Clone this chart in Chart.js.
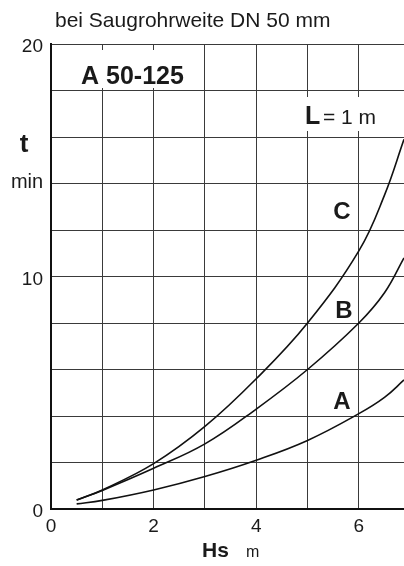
<!DOCTYPE html>
<html>
<head>
<meta charset="utf-8">
<script src="https://cdn.jsdelivr.net/npm/chart.js@4"></script>
<style>
  html, body { margin: 0; padding: 0; background: #fff; }
  #wrap { width: 404px; height: 566px; position: relative; }
</style>
</head>
<body>
<div id="wrap"><canvas id="chart"></canvas></div>
<script>
// Saugzeit t (min) ueber Saughoehe Hs (m), A 50-125
const hs = [0.5, 1, 2, 3, 4, 5, 6, 6.5, 6.88];
const tA = [0.22, 0.37, 0.82, 1.4, 2.1, 2.95, 4.1, 4.8, 5.55];
const tB = [0.39, 0.8, 1.75, 2.8, 4.3, 6.0, 8.0, 9.3, 10.8];
const tC = [0.39, 0.82, 1.95, 3.55, 5.6, 8.0, 11.1, 13.5, 15.9];
const xLabels = [0, 2, 4, 6];
const yLabels = [0, 10, 20];

const FONT = "'Liberation Sans', Arial, sans-serif";

function toPoints(ys) {
    return hs.map(function(x, i) { return { x: x, y: ys[i] }; });
}

function curve(label, ys) {
    return {
        label: label,
        data: toPoints(ys),
        borderColor: '#111',
        borderWidth: 1.6,
        pointRadius: 0,
        fill: false,
        tension: 0.4
    };
}

// white boxes behind the type labels, then all the free text
const textPlugin = {
    id: 'texts',
    beforeDatasetsDraw(chart) {
        const ctx = chart.ctx;
        ctx.save();
        ctx.fillStyle = '#fff';
        ctx.fillRect(52, 50, 151, 38);
        ctx.fillRect(298, 97, 106, 34);
        ctx.restore();
    },
    afterDraw(chart) {
        const ctx = chart.ctx;
        ctx.save();
        ctx.fillStyle = '#1a1a1a';
        ctx.textBaseline = 'alphabetic';

        ctx.font = '21px ' + FONT;
        ctx.textAlign = 'left';
        ctx.fillText('bei Saugrohrweite DN 50 mm', 55, 27);

        ctx.font = 'bold 25px ' + FONT;
        ctx.fillText('A 50-125', 81, 84);

        ctx.font = 'bold 25px ' + FONT;
        ctx.fillText('L', 305, 124);
        ctx.font = '21px ' + FONT;
        ctx.fillText('= 1 m', 323, 124);

        ctx.font = 'bold 24px ' + FONT;
        ctx.textAlign = 'center';
        ctx.fillText('C', 342, 219);
        ctx.fillText('B', 344, 318);
        ctx.fillText('A', 342, 409);

        ctx.font = 'bold 26px ' + FONT;
        ctx.fillText('t', 24, 152);
        ctx.font = '20px ' + FONT;
        ctx.fillText('min', 27, 188);

        ctx.textAlign = 'left';
        ctx.font = 'bold 21px ' + FONT;
        ctx.fillText('Hs', 202, 557);
        ctx.font = '16px ' + FONT;
        ctx.fillText('m', 246, 557);
        ctx.restore();
    }
};

new Chart(document.getElementById('chart'), {
    type: 'line',
    data: {
        datasets: [curve('A', tA), curve('B', tB), curve('C', tC)]
    },
    options: {
        responsive: true,
        maintainAspectRatio: false,
        animation: false,
        layout: { padding: { top: 44, left: 0, right: 0, bottom: 0 } },
        plugins: {
            legend: { display: false },
            title: { display: false },
            tooltip: { enabled: false }
        },
        scales: {
            x: {
                type: 'linear',
                min: 0,
                max: 6.88,
                afterFit: function(scale) { scale.height = 57; },
                grid: { color: '#3a3a3a', lineWidth: 1, drawTicks: false },
                border: { display: true, color: '#111', width: 2 },
                ticks: {
                    stepSize: 1,
                    includeBounds: false,
                    padding: 6,
                    maxRotation: 0,
                    color: '#1a1a1a',
                    font: { family: FONT, size: 19 },
                    callback: function(v) { return xLabels.indexOf(v) >= 0 ? String(v) : ''; }
                }
            },
            y: {
                type: 'linear',
                min: 0,
                max: 20,
                afterFit: function(scale) { scale.width = 51; },
                grid: { color: '#3a3a3a', lineWidth: 1, drawTicks: false },
                border: { display: true, color: '#111', width: 2 },
                ticks: {
                    stepSize: 2,
                    padding: 8,
                    labelOffset: 3,
                    color: '#1a1a1a',
                    font: { family: FONT, size: 19 },
                    callback: function(v) { return yLabels.indexOf(v) >= 0 ? String(v) : ''; }
                }
            }
        }
    },
    plugins: [textPlugin]
});
</script>
</body>
</html>
